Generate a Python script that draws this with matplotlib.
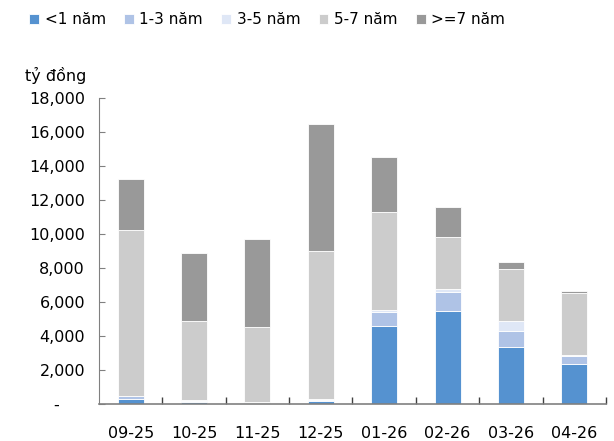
import numpy as np
import matplotlib
matplotlib.use("Agg")
import matplotlib.pyplot as plt
from matplotlib.ticker import FuncFormatter

# Data (tỷ đồng)
months = ['09-25', '10-25', '11-25', '12-25', '01-26', '02-26', '03-26', '04-26']
lt1 = [300, 100, 60, 200, 4600, 5470, 3350, 2350]
y1_3 = [150, 60, 30, 60, 800, 1120, 940, 470]
y3_5 = [20, 50, 20, 20, 120, 160, 590, 40]
y5_7 = [9770, 4690, 4400, 8700, 5760, 3080, 3060, 3670]
ge7 = [3000, 3965, 5220, 7470, 3220, 1770, 440, 120]

series_names = ['<1 năm', '1-3 năm', '3-5 năm', '5-7 năm', '>=7 năm']
colors = ['#5592D0', '#AFC3E6', '#DFE7F6', '#CCCCCC', '#999999']

plt.rcParams['font.family'] = ['DejaVu Sans']

fig = plt.figure(figsize=(6.14, 4.41), dpi=100)
ax = fig.add_axes([0.1612, 0.0839, 0.987 - 0.1612, 0.7778 - 0.0839])

x = np.arange(len(months))
bottom = np.zeros(len(months))
handles = []
for name, vals, c in zip(series_names, [lt1, y1_3, y3_5, y5_7, ge7], colors):
    vals = np.array(vals, dtype=float)
    b = ax.bar(x, vals, width=0.41, bottom=bottom, color=c, edgecolor='white',
               linewidth=0.6, label=name)
    handles.append(b)
    bottom += vals

ax.set_xlim(-0.5, len(months) - 0.5)
ax.set_ylim(0, 18000)
ax.set_yticks(np.arange(0, 18001, 2000))
# Excel accounting style: zero shown as a dash
ax.yaxis.set_major_formatter(
    FuncFormatter(lambda v, p: '-' + '\u2007' * 2 + ' ' if v == 0 else f'{v:,.0f}'))

# category labels centred, ticks on category boundaries
ax.set_xticks(x)
ax.set_xticklabels(months)
ax.set_xticks(np.arange(0.5, len(months), 1.0), minor=True)
ax.tick_params(axis='x', which='major', length=0, pad=16, labelsize=11.5)
ax.tick_params(axis='x', which='minor', direction='in', length=5, width=1, color='#404040')
ax.tick_params(axis='y', direction='in', length=4, width=0.8, color='#808080',
               pad=10, labelsize=11.5)

for s in ['top', 'right']:
    ax.spines[s].set_visible(False)
ax.spines['left'].set_color('#808080')
ax.spines['bottom'].set_color('#808080')
ax.spines['bottom'].set_linewidth(1.2)

fig.text(0.091, 0.829, 'tỷ đồng', ha='center', va='center', fontsize=11.5)

fig.legend(handles=handles, labels=series_names, loc='center', ncol=5,
           bbox_to_anchor=(0.435, 0.955), frameon=False, fontsize=11,
           handlelength=0.65, handleheight=0.65, handletextpad=0.35, columnspacing=1.2)

plt.savefig('out.png', dpi=100)
